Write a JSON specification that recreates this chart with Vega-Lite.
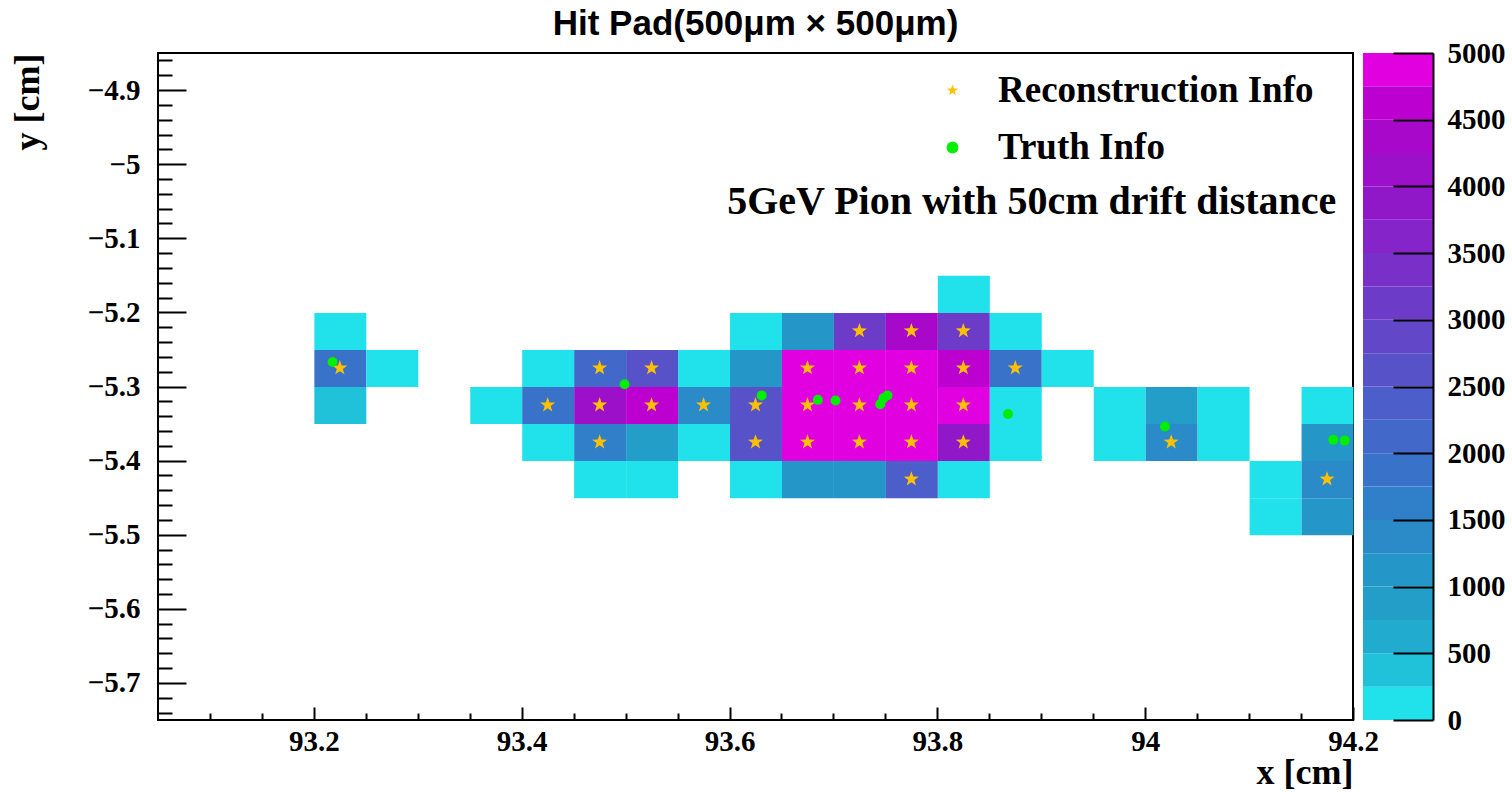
{
  "$schema": "https://vega.github.io/schema/vega-lite/v6.json",
  "background": "white",
  "padding": {"left": 8, "top": 6, "right": 5, "bottom": 5},
  "bounds": "flush",
  "spacing": 10,
  "datasets": {
    "cells": [
      {"x": 93.225, "y": -5.225, "v": 100},
      {"x": 93.175, "y": -5.275, "v": 100},
      {"x": 93.225, "y": -5.275, "v": 1900},
      {"x": 93.275, "y": -5.275, "v": 100},
      {"x": 93.175, "y": -5.325, "v": 100},
      {"x": 93.225, "y": -5.325, "v": 400},
      {"x": 93.375, "y": -5.325, "v": 100},
      {"x": 93.425, "y": -5.275, "v": 100},
      {"x": 93.425, "y": -5.325, "v": 1900},
      {"x": 93.425, "y": -5.375, "v": 100},
      {"x": 93.475, "y": -5.275, "v": 2100},
      {"x": 93.475, "y": -5.325, "v": 4200},
      {"x": 93.475, "y": -5.375, "v": 1600},
      {"x": 93.475, "y": -5.425, "v": 100},
      {"x": 93.525, "y": -5.275, "v": 2500},
      {"x": 93.525, "y": -5.325, "v": 4600},
      {"x": 93.525, "y": -5.375, "v": 900},
      {"x": 93.525, "y": -5.425, "v": 100},
      {"x": 93.575, "y": -5.275, "v": 100},
      {"x": 93.575, "y": -5.325, "v": 1400},
      {"x": 93.575, "y": -5.375, "v": 100},
      {"x": 93.625, "y": -5.225, "v": 100},
      {"x": 93.625, "y": -5.275, "v": 1100},
      {"x": 93.625, "y": -5.325, "v": 2600},
      {"x": 93.625, "y": -5.375, "v": 2600},
      {"x": 93.625, "y": -5.425, "v": 100},
      {"x": 93.675, "y": -5.225, "v": 1100},
      {"x": 93.675, "y": -5.275, "v": 4900},
      {"x": 93.675, "y": -5.325, "v": 4900},
      {"x": 93.675, "y": -5.375, "v": 4900},
      {"x": 93.675, "y": -5.425, "v": 1100},
      {"x": 93.725, "y": -5.225, "v": 3100},
      {"x": 93.725, "y": -5.275, "v": 4900},
      {"x": 93.725, "y": -5.325, "v": 4900},
      {"x": 93.725, "y": -5.375, "v": 4900},
      {"x": 93.725, "y": -5.425, "v": 1100},
      {"x": 93.775, "y": -5.225, "v": 4300},
      {"x": 93.775, "y": -5.275, "v": 4900},
      {"x": 93.775, "y": -5.325, "v": 4900},
      {"x": 93.775, "y": -5.375, "v": 4900},
      {"x": 93.775, "y": -5.425, "v": 2400},
      {"x": 93.825, "y": -5.175, "v": 100},
      {"x": 93.825, "y": -5.225, "v": 3100},
      {"x": 93.825, "y": -5.275, "v": 4500},
      {"x": 93.825, "y": -5.325, "v": 4900},
      {"x": 93.825, "y": -5.375, "v": 3950},
      {"x": 93.825, "y": -5.425, "v": 100},
      {"x": 93.875, "y": -5.225, "v": 100},
      {"x": 93.875, "y": -5.275, "v": 1900},
      {"x": 93.875, "y": -5.325, "v": 100},
      {"x": 93.875, "y": -5.375, "v": 100},
      {"x": 93.925, "y": -5.275, "v": 100},
      {"x": 93.975, "y": -5.325, "v": 100},
      {"x": 93.975, "y": -5.375, "v": 100},
      {"x": 94.025, "y": -5.325, "v": 900},
      {"x": 94.025, "y": -5.375, "v": 1400},
      {"x": 94.075, "y": -5.325, "v": 100},
      {"x": 94.075, "y": -5.375, "v": 100},
      {"x": 94.125, "y": -5.425, "v": 100},
      {"x": 94.125, "y": -5.475, "v": 100},
      {"x": 94.175, "y": -5.325, "v": 100},
      {"x": 94.175, "y": -5.375, "v": 1000},
      {"x": 94.175, "y": -5.425, "v": 1300},
      {"x": 94.175, "y": -5.475, "v": 1000}
    ],
    "reco": [
      {"x": 93.225, "y": -5.275, "series": "Reconstruction Info"},
      {"x": 93.425, "y": -5.325, "series": "Reconstruction Info"},
      {"x": 93.475, "y": -5.275, "series": "Reconstruction Info"},
      {"x": 93.475, "y": -5.325, "series": "Reconstruction Info"},
      {"x": 93.475, "y": -5.375, "series": "Reconstruction Info"},
      {"x": 93.525, "y": -5.275, "series": "Reconstruction Info"},
      {"x": 93.525, "y": -5.325, "series": "Reconstruction Info"},
      {"x": 93.575, "y": -5.325, "series": "Reconstruction Info"},
      {"x": 93.625, "y": -5.325, "series": "Reconstruction Info"},
      {"x": 93.625, "y": -5.375, "series": "Reconstruction Info"},
      {"x": 93.675, "y": -5.275, "series": "Reconstruction Info"},
      {"x": 93.675, "y": -5.325, "series": "Reconstruction Info"},
      {"x": 93.675, "y": -5.375, "series": "Reconstruction Info"},
      {"x": 93.725, "y": -5.225, "series": "Reconstruction Info"},
      {"x": 93.725, "y": -5.275, "series": "Reconstruction Info"},
      {"x": 93.725, "y": -5.325, "series": "Reconstruction Info"},
      {"x": 93.725, "y": -5.375, "series": "Reconstruction Info"},
      {"x": 93.775, "y": -5.225, "series": "Reconstruction Info"},
      {"x": 93.775, "y": -5.275, "series": "Reconstruction Info"},
      {"x": 93.775, "y": -5.325, "series": "Reconstruction Info"},
      {"x": 93.775, "y": -5.375, "series": "Reconstruction Info"},
      {"x": 93.775, "y": -5.425, "series": "Reconstruction Info"},
      {"x": 93.825, "y": -5.225, "series": "Reconstruction Info"},
      {"x": 93.825, "y": -5.275, "series": "Reconstruction Info"},
      {"x": 93.825, "y": -5.325, "series": "Reconstruction Info"},
      {"x": 93.825, "y": -5.375, "series": "Reconstruction Info"},
      {"x": 93.875, "y": -5.275, "series": "Reconstruction Info"},
      {"x": 94.025, "y": -5.375, "series": "Reconstruction Info"},
      {"x": 94.175, "y": -5.425, "series": "Reconstruction Info"}
    ],
    "truth": [
      {"x": 93.218, "y": -5.267, "series": "Truth Info"},
      {"x": 93.499, "y": -5.297, "series": "Truth Info"},
      {"x": 93.631, "y": -5.312, "series": "Truth Info"},
      {"x": 93.685, "y": -5.318, "series": "Truth Info"},
      {"x": 93.702, "y": -5.319, "series": "Truth Info"},
      {"x": 93.752, "y": -5.312, "series": "Truth Info"},
      {"x": 93.748, "y": -5.316, "series": "Truth Info"},
      {"x": 93.745, "y": -5.324, "series": "Truth Info"},
      {"x": 93.868, "y": -5.337, "series": "Truth Info"},
      {"x": 94.019, "y": -5.354, "series": "Truth Info"},
      {"x": 94.181, "y": -5.372, "series": "Truth Info"},
      {"x": 94.192, "y": -5.373, "series": "Truth Info"}
    ],
    "palette": [
      {"lo": 0, "hi": 250}, {"lo": 250, "hi": 500}, {"lo": 500, "hi": 750}, {"lo": 750, "hi": 1000},
      {"lo": 1000, "hi": 1250}, {"lo": 1250, "hi": 1500}, {"lo": 1500, "hi": 1750}, {"lo": 1750, "hi": 2000},
      {"lo": 2000, "hi": 2250}, {"lo": 2250, "hi": 2500}, {"lo": 2500, "hi": 2750}, {"lo": 2750, "hi": 3000},
      {"lo": 3000, "hi": 3250}, {"lo": 3250, "hi": 3500}, {"lo": 3500, "hi": 3750}, {"lo": 3750, "hi": 4000},
      {"lo": 4000, "hi": 4250}, {"lo": 4250, "hi": 4500}, {"lo": 4500, "hi": 4750}, {"lo": 4750, "hi": 5000}
    ]
  },
  "resolve": {
    "scale": {"color": "independent", "fill": "independent", "shape": "independent"},
    "legend": {"color": "independent", "fill": "independent", "shape": "independent"}
  },
  "hconcat": [
    {
      "width": 1195,
      "height": 667,
      "title": {"text": "Hit Pad(500μm × 500μm)", "font": "Liberation Sans", "fontSize": 35, "fontWeight": "bold", "color": "black", "anchor": "middle", "baseline": "alphabetic", "offset": -17},
      "view": {"stroke": "black", "strokeWidth": 2},
      "resolve": {"axis": {"x": "independent", "y": "independent"}},
      "layer": [
        {
          "data": {"name": "cells"},
          "mark": {"type": "rect"},
          "encoding": {
            "x": {"field": "x", "type": "quantitative", "bin": {"step": 0.05, "anchor": 93.05},
              "scale": {"domain": [93.05, 94.2], "nice": false, "zero": false},
              "axis": {"orient": "bottom", "values": [93.2, 93.4, 93.6, 93.8, 94, 94.2], "format": "~g", "grid": false, "domain": false, "zindex": 1,
                "tickSize": -13, "tickWidth": 2, "tickColor": "black",
                "labelFont": "Liberation Serif", "labelFontWeight": "bold", "labelFontSize": 29, "labelColor": "black", "labelPadding": 20, "labelFlush": false, "labelOverlap": false,
                "title": "x [cm]", "titleFont": "Liberation Serif", "titleFontWeight": "bold", "titleFontSize": 36, "titleColor": "black", "titleAnchor": "end", "titleAlign": "right", "titlePadding": -1}},
            "y": {"field": "y", "type": "quantitative", "bin": {"step": 0.05, "anchor": -5.75},
              "scale": {"domain": [-5.75, -4.85], "nice": false, "zero": false},
              "axis": {"orient": "left", "values": [-5.7, -5.6, -5.5, -5.4, -5.3, -5.2, -5.1, -5, -4.9], "format": "~g", "grid": false, "domain": false, "zindex": 1,
                "tickSize": -28, "tickWidth": 2, "tickColor": "black",
                "labelFont": "Liberation Serif", "labelFontWeight": "bold", "labelFontSize": 29, "labelColor": "black", "labelPadding": 46, "labelFlush": false, "labelOverlap": false,
                "title": "y [cm]", "titleFont": "Liberation Serif", "titleFontWeight": "bold", "titleFontSize": 36, "titleColor": "black", "titleAnchor": "end", "titleAngle": -90, "titleAlign": "right", "titleBaseline": "middle", "titleX": -131, "titleY": 0}},
            "color": {"field": "v", "type": "quantitative",
              "scale": {"type": "threshold",
                "domain": [250, 500, 750, 1000, 1250, 1500, 1750, 2000, 2250, 2500, 2750, 3000, 3250, 3500, 3750, 4000, 4250, 4500, 4750],
                "range": ["#21e1ea", "#1fc2d8", "#21abcf", "#239ec9", "#2596c8", "#2a8bc8", "#3080c9", "#3873c9", "#4268c9", "#4c5ec9", "#5852c9", "#6248c9", "#6c3cc9", "#7830c9", "#8424c9", "#9018c9", "#9c10c9", "#a808c9", "#bc00cf", "#e000e0"]},
              "legend": null}
          }
        },
        {
          "data": {"name": "reco"},
          "mark": {"type": "point", "filled": true, "size": 250, "opacity": 1, "strokeWidth": 0},
          "encoding": {
            "x": {"field": "x", "type": "quantitative", "scale": {"domain": [93.05, 94.2], "nice": false, "zero": false},
              "axis": {"orient": "bottom", "values": [93.1, 93.15, 93.25, 93.3, 93.35, 93.45, 93.5, 93.55, 93.65, 93.7, 93.75, 93.85, 93.9, 93.95, 94.05, 94.1, 94.15],
                "labels": false, "title": null, "grid": false, "domain": false, "zindex": 1, "tickSize": -7, "tickWidth": 2, "tickColor": "black"}},
            "y": {"field": "y", "type": "quantitative", "scale": {"domain": [-5.75, -4.85], "nice": false, "zero": false},
              "axis": {"orient": "left", "values": [-5.74, -5.72, -5.68, -5.66, -5.64, -5.62, -5.58, -5.56, -5.54, -5.52, -5.48, -5.46, -5.44, -5.42, -5.38, -5.36, -5.34, -5.32, -5.28, -5.26, -5.24, -5.22, -5.18, -5.16, -5.14, -5.12, -5.08, -5.06, -5.04, -5.02, -4.98, -4.96, -4.94, -4.92, -4.88, -4.86],
                "labels": false, "title": null, "grid": false, "domain": false, "zindex": 1, "tickSize": -14, "tickWidth": 2, "tickColor": "black"}},
            "fill": {"field": "series", "type": "nominal",
              "scale": {"domain": ["Reconstruction Info", "Truth Info"], "range": ["#ffc000", "#00ee00"]},
              "legend": {"title": null, "orient": "none", "legendX": 776, "legendY": 19, "labelFont": "Liberation Serif", "labelFontWeight": "bold", "labelFontSize": 37, "labelColor": "black", "labelLimit": 0, "symbolSize": 140, "labelOffset": 27, "rowPadding": 19, "symbolStrokeWidth": 0}},
            "shape": {"field": "series", "type": "nominal",
              "scale": {"domain": ["Reconstruction Info", "Truth Info"], "range": ["M0,-1L0.235,-0.324L0.951,-0.309L0.38,0.124L0.588,0.809L0,0.4L-0.588,0.809L-0.38,0.124L-0.951,-0.309L-0.235,-0.324Z", "circle"]},
              "legend": {"title": null, "orient": "none", "legendX": 776, "legendY": 19, "labelFont": "Liberation Serif", "labelFontWeight": "bold", "labelFontSize": 37, "labelColor": "black", "labelLimit": 0, "symbolSize": 140, "labelOffset": 27, "rowPadding": 19, "symbolStrokeWidth": 0}}
          }
        },
        {
          "data": {"name": "truth"},
          "mark": {"type": "point", "filled": true, "size": 100, "opacity": 1, "strokeWidth": 0},
          "encoding": {
            "x": {"field": "x", "type": "quantitative", "scale": {"domain": [93.05, 94.2], "nice": false, "zero": false}, "axis": null},
            "y": {"field": "y", "type": "quantitative", "scale": {"domain": [-5.75, -4.85], "nice": false, "zero": false}, "axis": null},
            "fill": {"field": "series", "type": "nominal"},
            "shape": {"field": "series", "type": "nominal"}
          }
        },
        {
          "data": {"values": [{"note": "5GeV Pion with 50cm drift distance"}]},
          "mark": {"type": "text", "align": "right", "baseline": "middle", "font": "Liberation Serif", "fontWeight": "bold", "fontSize": 40, "color": "black"},
          "encoding": {
            "x": {"datum": 94.184, "type": "quantitative", "scale": {"domain": [93.05, 94.2], "nice": false, "zero": false}, "axis": null},
            "y": {"datum": -5.051, "type": "quantitative", "scale": {"domain": [-5.75, -4.85], "nice": false, "zero": false}, "axis": null},
            "text": {"field": "note"}
          }
        }
      ]
    },
    {
      "width": 70,
      "height": 667,
      "view": {"stroke": null},
      "data": {"name": "palette"},
      "mark": {"type": "rect"},
      "encoding": {
        "y": {"field": "lo", "type": "quantitative", "scale": {"domain": [0, 5000], "nice": false, "zero": false},
          "axis": {"orient": "right", "values": [0, 500, 1000, 1500, 2000, 2500, 3000, 3500, 4000, 4500, 5000], "format": "d", "grid": false, "zindex": 1,
            "domain": true, "domainColor": "black", "domainWidth": 2,
            "tickSize": -40, "tickWidth": 2, "tickColor": "black",
            "labelFont": "Liberation Serif", "labelFontWeight": "bold", "labelFontSize": 29, "labelColor": "black", "labelPadding": 54, "labelFlush": false, "labelOverlap": false,
            "title": null}},
        "y2": {"field": "hi"},
        "color": {"field": "lo", "type": "quantitative",
          "scale": {"type": "threshold",
            "domain": [250, 500, 750, 1000, 1250, 1500, 1750, 2000, 2250, 2500, 2750, 3000, 3250, 3500, 3750, 4000, 4250, 4500, 4750],
            "range": ["#21e1ea", "#1fc2d8", "#21abcf", "#239ec9", "#2596c8", "#2a8bc8", "#3080c9", "#3873c9", "#4268c9", "#4c5ec9", "#5852c9", "#6248c9", "#6c3cc9", "#7830c9", "#8424c9", "#9018c9", "#9c10c9", "#a808c9", "#bc00cf", "#e000e0"]},
          "legend": null}
      }
    }
  ]
}
